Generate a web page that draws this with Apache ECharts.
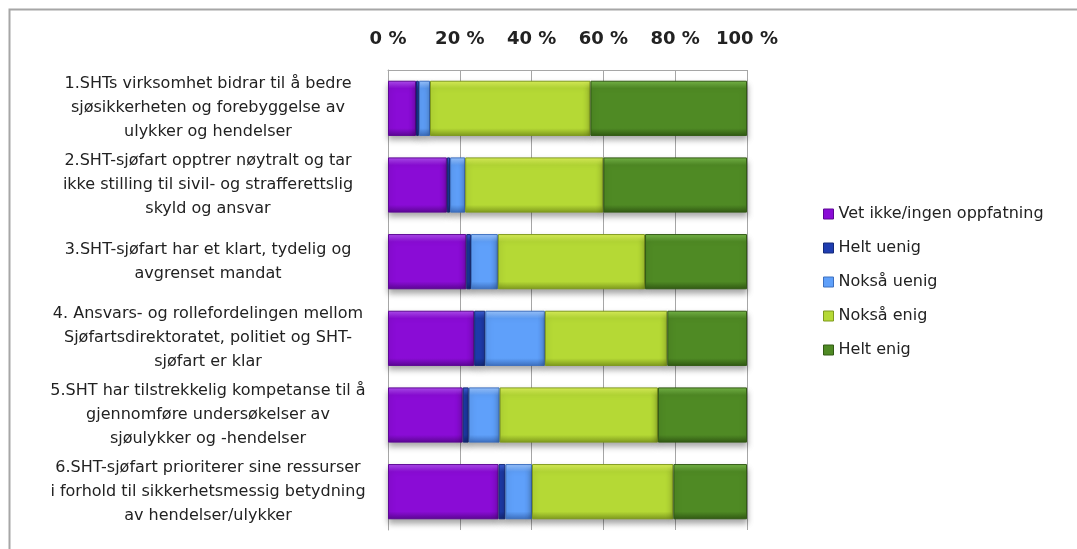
<!DOCTYPE html>
<html>
<head>
<meta charset="utf-8">
<script src="https://cdn.jsdelivr.net/npm/echarts@6/dist/echarts.min.js"></script>
<style>html,body{margin:0;padding:0;background:#fff;}#c{width:1077px;height:549px;}</style>
</head>
<body>
<div id="c"></div>
<script>
var categories = [
  "1.SHTs virksomhet bidrar til å bedre\nsjøsikkerheten og forebyggelse av\nulykker og hendelser",
  "2.SHT-sjøfart opptrer nøytralt og tar\nikke stilling til sivil- og strafferettslig\nskyld og ansvar",
  "3.SHT-sjøfart har et klart, tydelig og\navgrenset mandat",
  "4. Ansvars- og rollefordelingen mellom\nSjøfartsdirektoratet, politiet og SHT-\nsjøfart er klar",
  "5.SHT har tilstrekkelig kompetanse til å\ngjennomføre undersøkelser av\nsjøulykker og -hendelser",
  "6.SHT-sjøfart prioriterer sine ressurser\ni forhold til sikkerhetsmessig betydning\nav hendelser/ulykker"
];
var seriesNames = ["Vet ikke/ingen oppfatning", "Helt uenig", "Nokså uenig", "Nokså enig", "Helt enig"];
var vetIkke    = [7.8, 16.4, 21.8, 24.0, 20.8, 30.8];
var heltUenig  = [0.8, 0.9, 1.3, 3.1, 1.7, 1.9];
var noksaUenig = [3.1, 4.2, 7.5, 16.6, 8.6, 7.4];
var noksaEnig  = [44.7, 38.5, 41.0, 34.1, 44.1, 39.4];
var heltEnig   = [43.6, 40.0, 28.4, 22.2, 24.8, 20.5];
var xTicks = [0, 20, 40, 60, 80, 100];

var values = [vetIkke, heltUenig, noksaUenig, noksaEnig, heltEnig];
var colors = [
  {light:'#b04ef0', base:'#8a0cd6', dark:'#5c0794'},
  {light:'#3f62d8', base:'#1f3db0', dark:'#142a7a'},
  {light:'#9cc6ff', base:'#5fa0fa', dark:'#3d70c0'},
  {light:'#dcf25a', base:'#b5d935', dark:'#7f9a1e'},
  {light:'#78b84a', base:'#4f8a24', dark:'#325a14'}
];
function grad(c){
  return new echarts.graphic.LinearGradient(0,0,0,1,[
    {offset:0, color:c.light},
    {offset:0.14, color:c.base},
    {offset:0.86, color:c.base},
    {offset:1, color:c.dark}
  ]);
}
var series = seriesNames.map(function(n,i){
  return {
    name:n, type:'bar', stack:'all', barCategoryGap:'28%',
    data: values[i],
    itemStyle:{color:grad(colors[i]), borderColor:colors[i].dark, borderWidth:1,
      shadowColor:'rgba(0,0,0,0.35)', shadowBlur:6, shadowOffsetY:4},
    emphasis:{disabled:true}
  };
});
var chart = echarts.init(document.getElementById('c'));
chart.setOption({
  animation:false,
  backgroundColor:'#fff',
  graphic:[{type:'rect', shape:{x:9.5,y:9.5,width:1100,height:600}, style:{fill:'none', stroke:'#a6a6a6', lineWidth:2}, silent:true}],
  grid:{left:388, top:70, right:330, bottom:19, containLabel:false},
  legend:{
    orient:'vertical', left:818, top:200, itemWidth:10, itemHeight:10, itemGap:16,
    icon:'rect',
    textStyle:{fontFamily:'DejaVu Sans', fontSize:16, color:'#222', lineHeight:18},
    data: seriesNames.map(function(n,i){return {name:n, itemStyle:{color:colors[i].base, borderColor:colors[i].dark, borderWidth:1}};})
  },
  xAxis:{
    type:'value', position:'top', min:0, max:100, interval:20,
    axisLine:{show:true, lineStyle:{color:'#a6a6a6', width:1}},
    axisTick:{show:false},
    splitLine:{show:true, lineStyle:{color:'#a6a6a6', width:1}},
    axisLabel:{margin:22, fontFamily:'DejaVu Sans', fontWeight:'bold', fontSize:18, color:'#222',
      formatter:function(v){ return xTicks.indexOf(v) >= 0 ? v + ' %' : ''; }}
  },
  yAxis:{
    type:'category', inverse:true, data:categories,
    axisLine:{show:true, lineStyle:{color:'#a6a6a6', width:1}},
    axisTick:{show:false},
    axisLabel:{margin:180, align:'center', fontFamily:'DejaVu Sans', fontSize:16, lineHeight:24, color:'#222'}
  },
  series: series
});
</script>
</body>
</html>
